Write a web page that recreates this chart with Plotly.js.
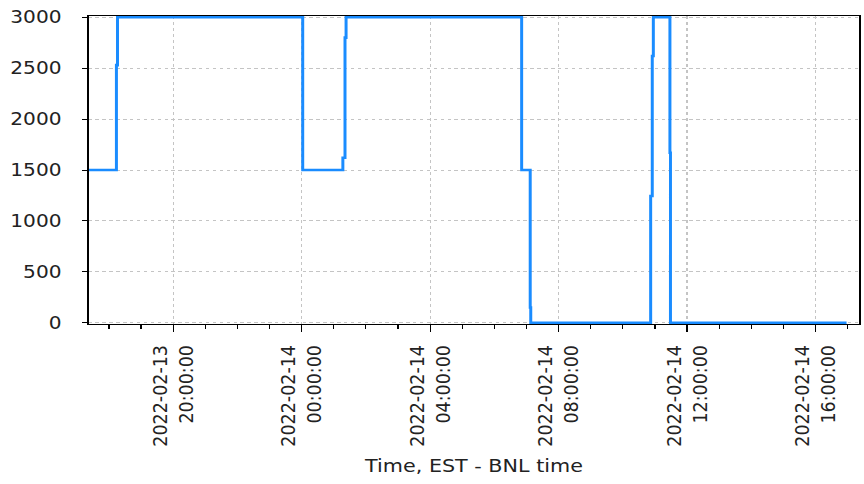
<!DOCTYPE html>
<html>
<head>
<meta charset="utf-8">
<script src="https://cdn.plot.ly/plotly-3.0.1.min.js"></script>
<style>
  html, body { margin: 0; padding: 0; background: #fff; overflow: hidden; }
  #chart { width: 751px; height: 484px; transform: scale(1.1505, 1); transform-origin: 0 0; }
</style>
</head>
<body>
<div id="chart"></div>
<script>
// Step times (EST - BNL time) and values
const times = [
  "2022-02-13 17:22", "2022-02-13 18:14", "2022-02-13 18:16",
  "2022-02-14 00:02", "2022-02-14 01:17", "2022-02-14 01:21", "2022-02-14 01:23",
  "2022-02-14 06:51", "2022-02-14 07:07", "2022-02-14 07:08",
  "2022-02-14 10:52", "2022-02-14 10:55", "2022-02-14 10:57",
  "2022-02-14 11:28", "2022-02-14 11:29", "2022-02-14 16:58"
];
const values = [1500, 2530, 3000, 1500, 1620, 2800, 3000, 1500, 150, 0, 1245, 2620, 3000, 1670, 0, 0];

const tickVals = ["2022-02-13 20:00", "2022-02-14 00:00", "2022-02-14 04:00",
                  "2022-02-14 08:00", "2022-02-14 12:00", "2022-02-14 16:00"];
const tickText = ["2022-02-13<br>20:00:00", "2022-02-14<br>00:00:00", "2022-02-14<br>04:00:00",
                  "2022-02-14<br>08:00:00", "2022-02-14<br>12:00:00", "2022-02-14<br>16:00:00"];
const yTicks = [0, 500, 1000, 1500, 2000, 2500, 3000];

const trace = {
  x: times, y: values, type: "scatter", mode: "lines",
  line: { shape: "hv", color: "#1a8cff", width: 2.6 },
  hoverinfo: "skip"
};

const layout = {
  width: 751, height: 484,
  margin: { l: 77, r: 3.5, t: 16, b: 160 },
  paper_bgcolor: "#ffffff", plot_bgcolor: "#ffffff",
  font: { family: "DejaVu Sans", size: 17.5, color: "#222" },
  showlegend: false,
  xaxis: {
    type: "date",
    range: ["2022-02-13 17:22", "2022-02-14 17:22"],
    tickmode: "array", tickvals: tickVals, ticktext: tickText,
    tickangle: -90,
    ticks: "outside", ticklen: 7, tickwidth: 1, tickcolor: "#000",
    minor: { dtick: 3600000, tick0: "2022-02-13 20:00", ticks: "outside", ticklen: 4, tickcolor: "#000", showgrid: false },
    showline: true, linecolor: "#000", linewidth: 1, mirror: true,
    showgrid: true, gridcolor: "#c4c4c4", griddash: "dot", gridwidth: 1,
    zeroline: false,
    tickfont: { family: "DejaVu Sans", size: 17.5, color: "#222" },
    ticklabelstandoff: 6,
    title: { text: "Time, EST - BNL time", font: { family: "DejaVu Sans", size: 18, color: "#222" }, standoff: 13 }
  },
  yaxis: {
    range: [-12, 3012],
    tickmode: "array", tickvals: yTicks,
    ticks: "outside", ticklen: 5, tickwidth: 1, tickcolor: "#000",
    showline: true, linecolor: "#000", linewidth: 1, mirror: true,
    showgrid: true, gridcolor: "#c4c4c4", griddash: "dot", gridwidth: 1,
    zeroline: false,
    tickfont: { family: "DejaVu Sans", size: 17.5, color: "#222" },
    ticklabelstandoff: 14
  }
};

Plotly.newPlot("chart", [trace], layout, { staticPlot: true, displayModeBar: false });
</script>
</body>
</html>
